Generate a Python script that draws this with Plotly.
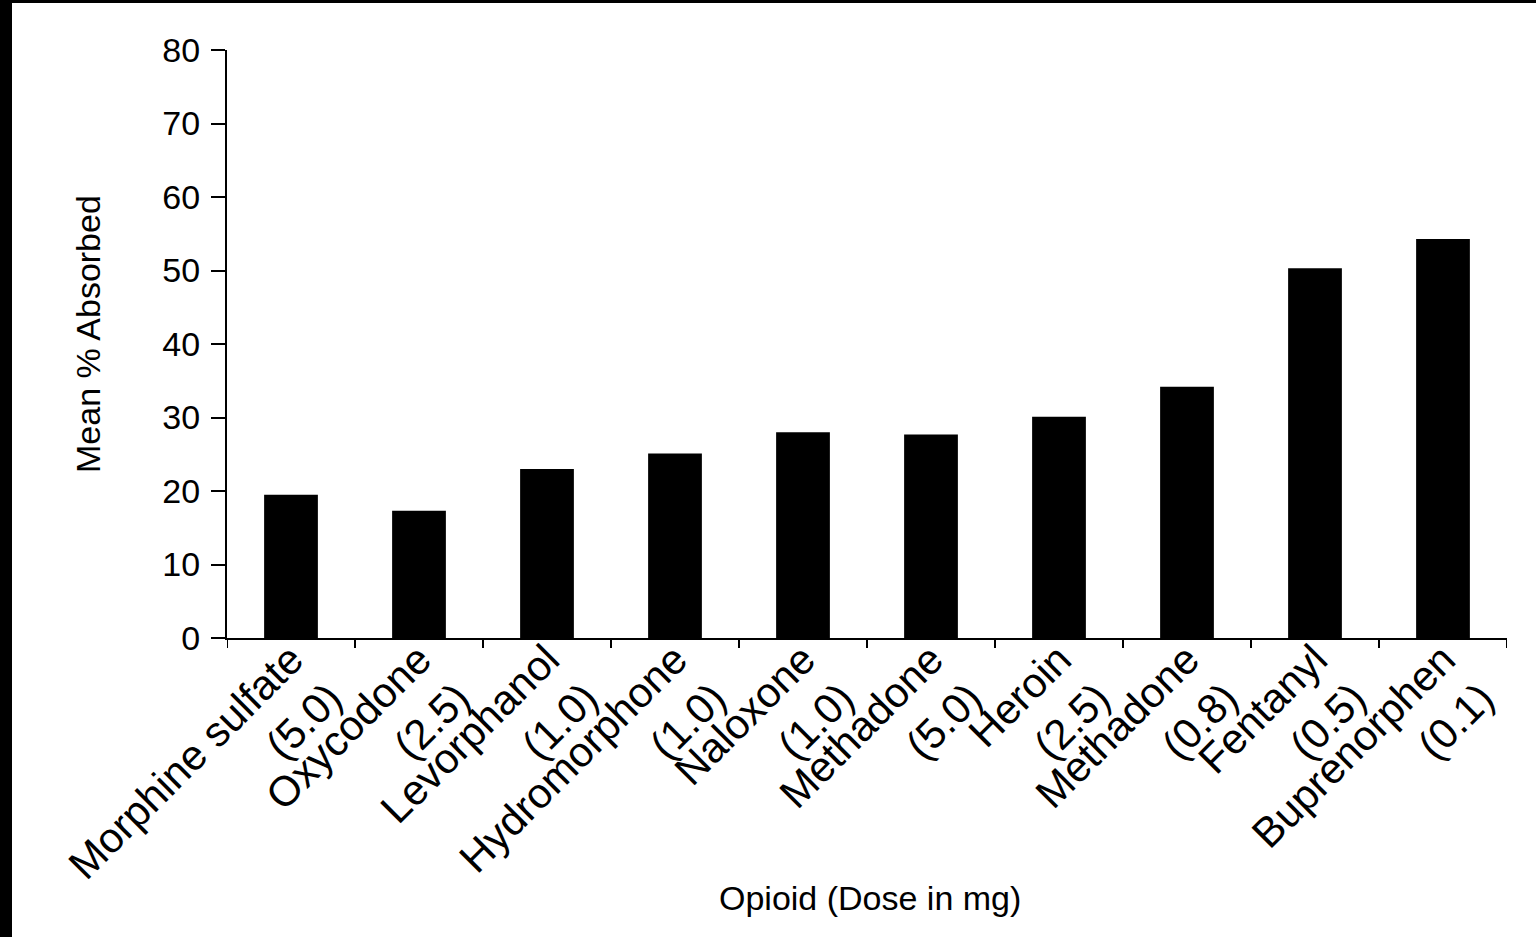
import plotly.graph_objects as go

# Opioid absorption data
opioids = ["Morphine sulfate", "Oxycodone", "Levorphanol", "Hydromorphone", "Naloxone",
           "Methadone", "Heroin", "Methadone", "Fentanyl", "Buprenorphen"]
doses = ["5.0", "2.5", "1.0", "1.0", "1.0", "5.0", "2.5", "0.8", "0.5", "0.1"]
mean_absorbed = [19.5, 17.3, 23.0, 25.1, 28.0, 27.7, 30.1, 34.2, 50.3, 54.3]
y_ticks = [0, 10, 20, 30, 40, 50, 60, 70, 80]

tick_text = [f"{name}<br>({dose})" for name, dose in zip(opioids, doses)]
positions = list(range(len(opioids)))

W, H = 1536, 937
ML, MR, MT, MB = 227, 29, 50, 299
PW, PH = W - ML - MR, H - MT - MB

FONT = "Liberation Sans, Arial, Helvetica, sans-serif"

fig = go.Figure(
    go.Bar(
        x=positions,
        y=mean_absorbed,
        width=0.42,
        marker=dict(color="black", line=dict(width=0)),
        hoverinfo="skip",
    )
)

fig.update_layout(
    width=W,
    height=H,
    margin=dict(l=ML, r=MR, t=MT, b=MB, pad=0, autoexpand=False),
    paper_bgcolor="white",
    plot_bgcolor="white",
    showlegend=False,
    font=dict(family=FONT, color="black"),
    xaxis=dict(
        range=[-0.5, len(opioids) - 0.5],
        tickmode="array",
        tickvals=positions,
        ticktext=tick_text,
        tickangle=-45,
        tickfont=dict(size=42, family=FONT, color="black"),
        ticklabelstandoff=-22,
        automargin=False,
        showline=True,
        linecolor="black",
        linewidth=2,
        ticks="",
        showgrid=False,
        zeroline=False,
    ),
    yaxis=dict(
        range=[0, 80],
        tickmode="array",
        tickvals=y_ticks,
        ticks="outside",
        ticklen=14,
        tickwidth=2,
        tickcolor="black",
        tickfont=dict(size=34, family=FONT, color="black"),
        ticklabelstandoff=4,
        automargin=False,
        showline=True,
        linecolor="black",
        linewidth=2,
        showgrid=False,
        zeroline=False,
    ),
)

# Category boundary ticks on the x axis
for b in [p - 0.5 for p in positions] + [positions[-1] + 0.5]:
    fig.add_shape(type="line", xref="x", yref="paper", x0=b, x1=b, y0=0, y1=-10 / PH,
                  line=dict(color="black", width=2))

# Axis titles
fig.add_annotation(text="Mean % Absorbed", xref="paper", yref="paper",
                   x=(88 - ML) / PW, y=1 - (334 - MT) / PH, textangle=-90,
                   showarrow=False, xanchor="center", yanchor="middle",
                   font=dict(size=34, family=FONT, color="black"))
fig.add_annotation(text="Opioid (Dose in mg)", xref="paper", yref="paper",
                   x=(870 - ML) / PW, y=1 - (898 - MT) / PH,
                   showarrow=False, xanchor="center", yanchor="middle",
                   font=dict(size=34, family=FONT, color="black"))

# Dark frame along the left and top edges of the page
fig.add_shape(type="rect", xref="paper", yref="paper", layer="above",
              x0=-ML / PW, x1=(12 - ML) / PW, y0=-MB / PH, y1=1 + MT / PH,
              fillcolor="black", line=dict(width=0))
fig.add_shape(type="rect", xref="paper", yref="paper", layer="above",
              x0=-ML / PW, x1=1 + MR / PW, y0=1 + (MT - 3) / PH, y1=1 + MT / PH,
              fillcolor="black", line=dict(width=0))

fig.write_html("out.html")
